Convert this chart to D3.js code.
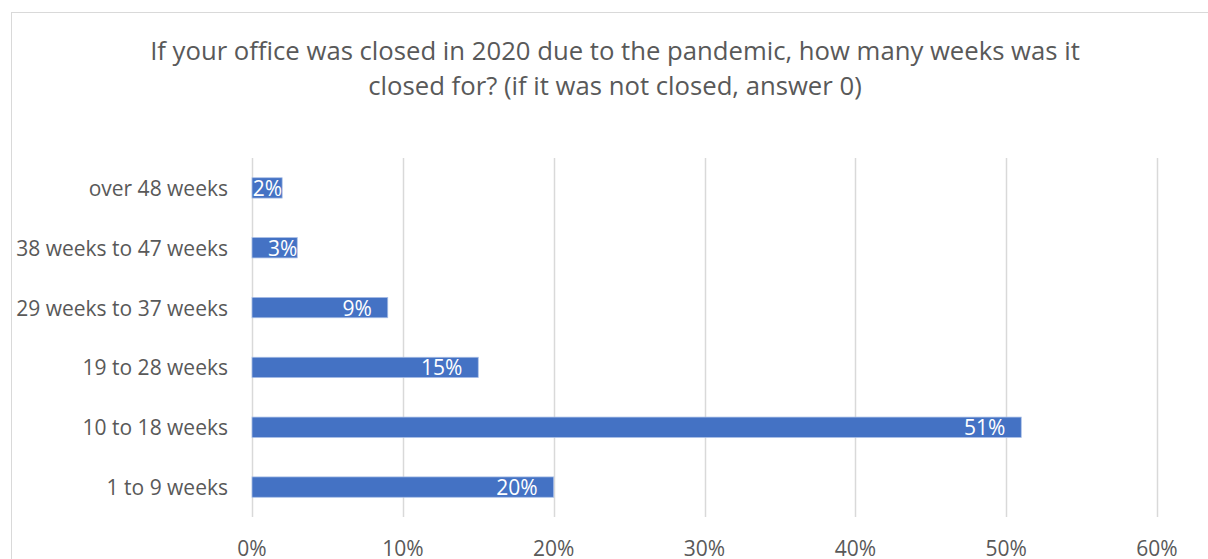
<!DOCTYPE html>
<html>
<head>
<meta charset="utf-8">
<script src="https://cdn.jsdelivr.net/npm/d3@7"></script>
<style>
  html, body { margin: 0; padding: 0; background: #fff; }
  svg { display: block; font-family: "Open Sans", sans-serif; }
</style>
</head>
<body>
<div id="chart"></div>
<script>
const CATEGORIES = [
  '1 to 9 weeks', '10 to 18 weeks', '19 to 28 weeks',
  '29 weeks to 37 weeks', '38 weeks to 47 weeks', 'over 48 weeks',
];
const VALUES = [0.20, 0.51, 0.15, 0.09, 0.03, 0.02];
const X_TICKS = [0, 0.1, 0.2, 0.3, 0.4, 0.5, 0.6];
const TITLE_LINES = [
  'If your office was closed in 2020 due to the pandemic, how many weeks was it',
  'closed for? (if it was not closed, answer 0)',
];

const W = 1208, H = 559;
const BAR_COLOR = '#4472C4';
const TEXT_COLOR = '#595959';
const GRID_COLOR = '#d9d9d9';

const svg = d3.select('#chart').append('svg')
  .attr('width', W).attr('height', H);

// chart area border (runs off the right and bottom edges)
svg.append('rect')
  .attr('x', 11.5).attr('y', 12.5)
  .attr('width', W + 20).attr('height', H + 20)
  .attr('fill', 'none').attr('stroke', GRID_COLOR).attr('stroke-width', 1);

svg.append('g').selectAll('text')
  .data(TITLE_LINES)
  .join('text')
  .attr('x', 615).attr('y', (d, i) => 60 + i * 35)
  .attr('text-anchor', 'middle')
  .attr('font-size', '25.7px')
  .attr('fill', TEXT_COLOR)
  .text(d => d);

const x = d3.scaleLinear().domain([0, 0.6]).range([252, 1157]);
const y = d3.scaleBand()
  .domain(CATEGORIES.slice().reverse())
  .range([158, 517])
  .paddingInner(0.66).paddingOuter(0.33);

// gridlines
svg.append('g').selectAll('line')
  .data(X_TICKS)
  .join('line')
  .attr('x1', d => Math.round(x(d)) + 0.5).attr('x2', d => Math.round(x(d)) + 0.5)
  .attr('y1', 158).attr('y2', 517)
  .attr('stroke', GRID_COLOR).attr('stroke-width', 1.5);

// x tick labels
svg.append('g').selectAll('text')
  .data(X_TICKS)
  .join('text')
  .attr('x', d => x(d)).attr('y', 556)
  .attr('text-anchor', 'middle')
  .attr('font-size', '21px')
  .attr('fill', TEXT_COLOR)
  .text(d3.format('.0%'));

// category labels
svg.append('g').selectAll('text')
  .data(CATEGORIES)
  .join('text')
  .attr('x', 228)
  .attr('y', d => y(d) + y.bandwidth() / 2)
  .attr('text-anchor', 'end')
  .attr('dominant-baseline', 'central')
  .attr('font-size', '21px')
  .attr('fill', TEXT_COLOR)
  .text(d => d);

const data = CATEGORIES.map((c, i) => ({ cat: c, value: VALUES[i] }));

svg.append('g').selectAll('rect')
  .data(data)
  .join('rect')
  .attr('x', x(0))
  .attr('y', d => y(d.cat))
  .attr('width', d => x(d.value) - x(0))
  .attr('height', y.bandwidth())
  .attr('fill', BAR_COLOR)
  .attr('stroke', '#a9bfe6').attr('stroke-width', 0.75);

const labels = svg.append('g').selectAll('text')
  .data(data)
  .join('text')
  .attr('y', d => y(d.cat) + y.bandwidth() / 2)
  .attr('text-anchor', 'end')
  .attr('dominant-baseline', 'central')
  .attr('font-size', '21px')
  .attr('fill', '#fff')
  .text(d => d3.format('.0%')(d.value));

labels.attr('x', function (d) {
  const barW = x(d.value) - x(0);
  const tw = this.getComputedTextLength();
  const pad = Math.min(16, Math.max(0, barW - tw - 16));
  return x(d.value) - pad;
});
</script>
</body>
</html>
